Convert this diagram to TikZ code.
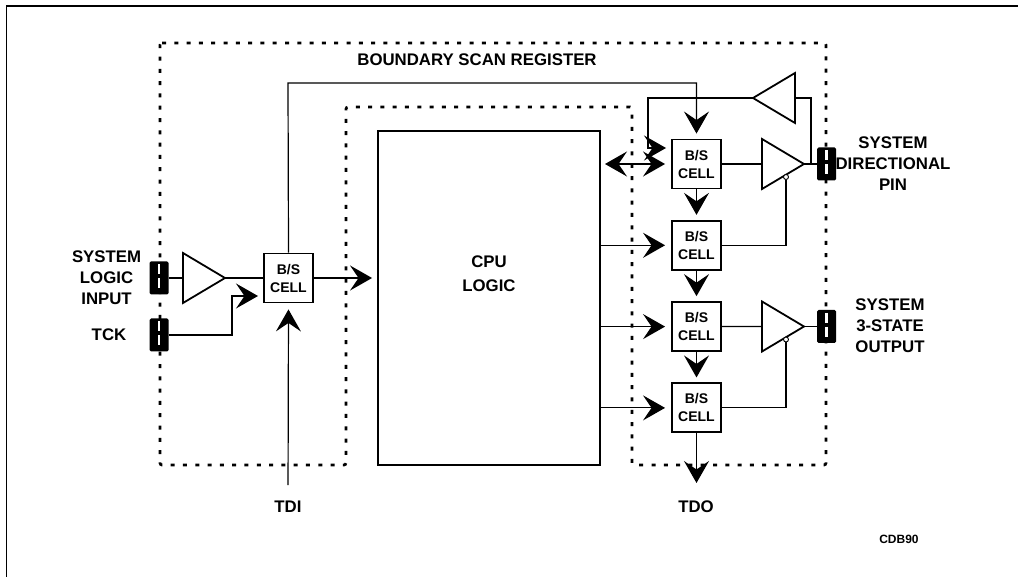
\documentclass[tikz,border=0pt]{standalone}
\usepackage{fontspec}
\setmainfont{Liberation Sans}
\usetikzlibrary{calc, positioning, arrows.meta, shapes.geometric}

\begin{document}
\begin{tikzpicture}[
  x=1pt, y=-1pt,
  node distance=30.4pt and 41pt,
  cell/.style={
    rectangle, draw=black, line width=1.9pt, fill=white,
    font=\fontsize{14}{18}\selectfont\bfseries,
    minimum width=49pt, minimum height=49pt, inner sep=0pt, align=center
  },
  cpubox/.style={
    rectangle, draw=black, line width=1.9pt, fill=white,
    minimum width=222pt, minimum height=334pt, inner sep=0pt
  },
  buf/.style={
    isosceles triangle, isosceles triangle stretches, draw=black,
    line width=1.8pt, fill=white, inner sep=0pt, outer sep=0pt,
    minimum width=50pt, minimum height=42pt
  },
  pad/.style={
    rectangle, fill=black, rounded corners=1.5pt, inner sep=0pt,
    minimum width=19pt, minimum height=33pt
  },
  padslot/.style={white, line width=2.4pt, dash pattern=on 10pt off 4pt,
    shorten <=3pt, shorten >=3pt},
  bub/.style={circle, draw=black, line width=0.9pt, fill=white,
    minimum size=5pt, inner sep=0pt},
  lbl/.style={font=\fontsize{16.8}{21}\selectfont\bfseries, align=center, inner sep=0pt},
  wire/.style={line width=1.2pt},
  arr/.style={-{Stealth[length=22pt,width=25pt,inset=8.5pt]}, line width=1.2pt},
  bothway/.style={{Stealth[length=22pt,width=25pt,inset=8.5pt]}-{Stealth[length=22pt,width=25pt,inset=8.5pt]}, line width=1.2pt},
  dotline/.style={line width=2.7pt, dash pattern=on 4pt off 8.3pt, rounded corners=2pt},
  frameline/.style={line width=1.2pt}
]
\useasboundingbox (0,0) rectangle (1018,577);

%% ── Frame and register outline ──────────────────────────────────────────────
\draw[frameline] (6.5,577) -- (6.5,6) -- (1018,6);
\draw[dotline] (160,43) -- (826,43) -- (826,465) -- (632,465) -- (632,107)
  -- (346,107) -- (346,465) -- (160,465) -- cycle;

%% ── Cells, right column (top-down) ──────────────────────────────────────────
\node[cell] (bs1) at (696.5,164) {B/S\\CELL};
\node[cell, below=of bs1] (bs2) {B/S\\CELL};
\node[cell, below=of bs2] (bs3) {B/S\\CELL};
\node[cell, below=of bs3] (bs4) {B/S\\CELL};
\node[cpubox] (cpu) at (489,298) {};
\node[lbl] (cpulbl) at (489,274) {CPU\\[3pt]LOGIC};

%% ── Left side ───────────────────────────────────────────────────────────────
\node[cell] (bs0) at (288.5,278) {B/S\\CELL};
\node[buf, anchor=lower side] (inbuf) at (183,278) {};
\node[pad] (inpad) at (159,278) {};
\node[pad] (tckpad) at (159,335) {};
\node[lbl, left=8pt of inpad] (inlbl) {SYSTEM\\LOGIC\\INPUT};
\node[lbl] (tcklbl) at (109,335) {TCK};
\node[lbl] (tdi) at (288,507) {TDI};
\node[lbl] (tdo) at (696,507) {TDO};
\node[font=\fontsize{12}{14}\selectfont\bfseries, inner sep=0pt] (cdb) at (899,539) {CDB90};

%% ── Buffers and pins, right side ────────────────────────────────────────────
\node[buf, anchor=lower side] (outbuf1) at (762,164) {};
\node[buf, anchor=lower side] (outbuf2) at (762,326.5) {};
\node[buf, shape border rotate=180, anchor=lower side] (backbuf) at (795,98) {};
\node[bub] (bub1) at (786,177) {};
\node[bub] (bub2) at (786,339.5) {};
\node[pad] (dirpad) at (826.5,164) {};
\node[pad] (outpad) at (826.5,326.5) {};
\node[lbl] (dirlbl) at (893,164) {SYSTEM\\DIRECTIONAL\\PIN};
\node[lbl] (outlbl) at (890,326) {SYSTEM\\3-STATE\\OUTPUT};

%% ── Turning points ──────────────────────────────────────────────────────────
\coordinate (scanup) at (288,83);
\coordinate (fbturn) at (648,148);
\coordinate (fbin)   at (672,148);
\coordinate (tckturn) at (232,296);
\coordinate (tckin)  at (264,296);
\coordinate (tdoend) at (696.5,483);
\coordinate (backend) at (811,164);
\coordinate (cpu2) at (cpu.east |- bs2);
\coordinate (cpu3) at (cpu.east |- bs3);
\coordinate (cpu4) at (cpu.east |- bs4);
\coordinate (cpu0) at (cpu.west |- bs0);
\coordinate (cpu1) at (605,164);

%% ── Slots in the pins ───────────────────────────────────────────────────────
\foreach \p in {inpad, tckpad, dirpad, outpad}
  \draw[padslot] (\p.north) -- (\p.south);

%% ── Left side connections ───────────────────────────────────────────────────
\draw[wire] (inpad.east) -- (inbuf.lower side);
\draw[wire] (inbuf.apex) -- (bs0.west);
\draw[arr, shorten >=6pt] (tckpad.east) -| (tckturn) -- (tckin);
\draw[arr, shorten >=6pt, shorten <=16pt] (tdi.north) -- (bs0.south);
\draw[arr, shorten >=5pt] (bs0.east) -- (cpu0);

%% ── Scan path ───────────────────────────────────────────────────────────────
\draw[arr, shorten >=5pt] (bs0.north) -- (scanup) -| (bs1.north);
\draw[arr, shorten >=5pt] (bs1.south) -- (bs2.north);
\draw[arr, shorten >=5pt] (bs2.south) -- (bs3.north);
\draw[arr, shorten >=5pt] (bs3.south) -- (bs4.north);
\draw[arr] (bs4.south) -- (tdoend);

%% ── CPU to cells ────────────────────────────────────────────────────────────
\draw[arr, shorten >=6pt] (cpu2) -- (bs2.west);
\draw[arr, shorten >=6pt] (cpu3) -- (bs3.west);
\draw[arr, shorten >=6pt] (cpu4) -- (bs4.west);
\draw[bothway, shorten >=6pt] (cpu1) -- (bs1.west);

%% ── Outputs and feedback ────────────────────────────────────────────────────
\draw[wire] (bs1.east) -- (outbuf1.lower side);
\draw[wire] (bs3.east) -- (outbuf2.lower side);
\draw[wire] (outbuf1.apex) -- (dirpad.west);
\draw[wire] (outbuf2.apex) -- (outpad.west);
\draw[wire] (bs2.east) -| (bub1.south);
\draw[wire] (bs4.east) -| (bub2.south);
\draw[wire] (backbuf.lower side) -| (backend);
\draw[arr, shorten >=6pt] (backbuf.apex) -| (fbturn) -- (fbin);

%% ── Title ───────────────────────────────────────────────────────────────────
\node[lbl] (title) at (477,60) {BOUNDARY SCAN REGISTER};

\end{tikzpicture}
\end{document}
